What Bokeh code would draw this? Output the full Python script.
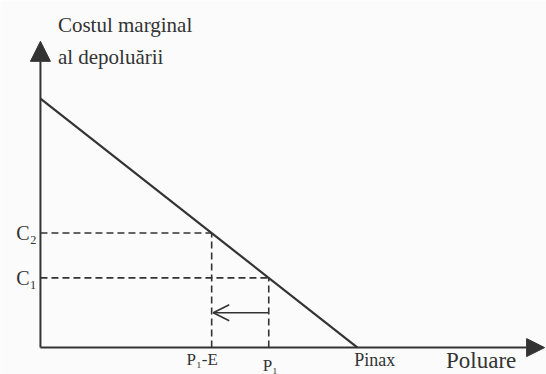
from bokeh.plotting import figure
from bokeh.models import Arrow, NormalHead, OpenHead, Label, Range1d
from bokeh.embed import file_html
from bokeh.resources import INLINE

# Marginal abatement cost curve: straight line from the cost intercept down to Pmax
curve_pollution = [0.0, 10.0]
curve_cost = [10.0, 0.0]

# Pollution levels marked on the horizontal axis and matching costs
p_levels = [5.4, 7.2]            # P1-E, P1
c_levels = [4.6, 2.8]            # C2, C1
p_labels = ["P\u2081-E", "P\u2081"]
c_labels = ["C\u2082", "C\u2081"]
p_max = 10.0

# Shift of pollution from P1 towards P1-E
shift_from = 7.2
shift_to = 5.45
shift_level = 1.4

INK = "#333333"
FONT = "Liberation Serif"

p = figure(width=546, height=374, output_backend="svg", toolbar_location=None,
           x_range=Range1d(-1.26, 15.96), y_range=Range1d(-1.08, 13.94),
           min_border=0, background_fill_color="#fbfbfb",
           border_fill_color="#fbfbfb")
p.axis.visible = False
p.grid.visible = False
p.outline_line_color = None

# axes with filled arrow heads
p.add_layout(Arrow(end=NormalHead(size=20, fill_color=INK, line_color=INK),
                   x_start=0, y_start=0, x_end=0, y_end=12.3,
                   line_color=INK, line_width=2))
p.add_layout(Arrow(end=NormalHead(size=18, fill_color=INK, line_color=INK),
                   x_start=0, y_start=0, x_end=15.9, y_end=0,
                   line_color=INK, line_width=2))

# cost curve
p.line(curve_pollution, curve_cost, line_color=INK, line_width=2.2)

# dashed guides from the curve to both axes
for px, cy in zip(p_levels, c_levels):
    p.line([0, px], [cy, cy], line_color=INK, line_width=1.6, line_dash="7 4")
    p.line([px, px], [0, cy], line_color=INK, line_width=1.6, line_dash="7 4")

# arrow showing the reduction of pollution
p.add_layout(Arrow(end=OpenHead(size=16, line_color=INK, line_width=1.6),
                   x_start=shift_from, y_start=shift_level,
                   x_end=shift_to, y_end=shift_level,
                   line_color=INK, line_width=1.6))

# cost labels on the vertical axis
for cy, txt in zip(c_levels, c_labels):
    p.add_layout(Label(x=-0.12, y=cy, text=txt, text_align="right",
                       text_baseline="middle", text_font=FONT,
                       text_font_size="20px", text_color=INK))

# pollution labels under the horizontal axis
offsets = [-0.3, 0.05]
tops = [-0.1, -0.35]
for px, txt, dx, ty in zip(p_levels, p_labels, offsets, tops):
    p.add_layout(Label(x=px + dx, y=ty, text=txt, text_align="center",
                       text_baseline="top", text_font=FONT,
                       text_font_size="17px", text_color=INK))

p.add_layout(Label(x=p_max + 0.54, y=-0.1, text="Pinax", text_align="center",
                   text_baseline="top", text_font=FONT,
                   text_font_size="18px", text_color=INK))
p.add_layout(Label(x=13.9, y=-0.02, text="Poluare", text_align="center",
                   text_baseline="top", text_font=FONT,
                   text_font_size="23px", text_color=INK))

# title of the vertical axis
p.add_layout(Label(x=0.55, y=12.97, text="Costul marginal", text_align="left",
                   text_baseline="middle", text_font=FONT,
                   text_font_size="21px", text_color=INK))
p.add_layout(Label(x=0.55, y=11.68, text="al depolu\u0103rii", text_align="left",
                   text_baseline="middle", text_font=FONT,
                   text_font_size="21px", text_color=INK))

open("out.html", "w").write(file_html(p, INLINE))
